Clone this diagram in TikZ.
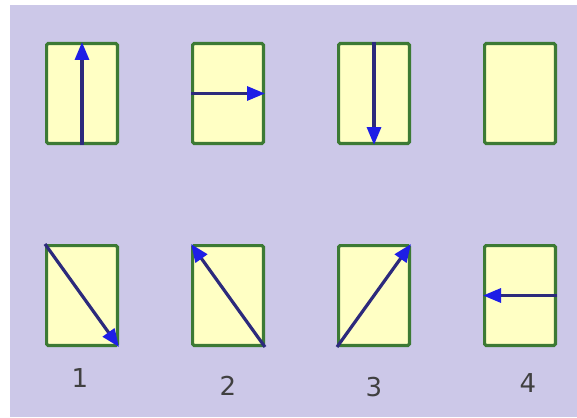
\documentclass[tikz,border=0pt]{standalone}
\usepackage{fontspec}
\setmainfont{DejaVu Sans}
\usetikzlibrary{arrows.meta,positioning}
\definecolor{lavender}{HTML}{CCC8E8}
\definecolor{cellfill}{HTML}{FFFFC4}
\definecolor{cellgreen}{HTML}{3C7A34}
\definecolor{shaft}{HTML}{2C2A7C}
\definecolor{tipblue}{HTML}{1E1EE6}

\begin{document}
\begin{tikzpicture}[x=1pt, y=-1pt,
    node distance=99pt and 72pt,
    cell/.style={draw=cellgreen, fill=cellfill, line width=3.2pt, rounded corners=1.5pt, minimum width=70.8pt, minimum height=99.8pt, inner sep=0pt},
    arrow/.style={-{Triangle[length=18pt, width=14pt, color=tipblue]}, draw=shaft, line width=3.2pt},
    num/.style={font=\fontsize{26}{26}\selectfont, text=black!75},
]
    \useasboundingbox (0,0) rectangle (577,417);
    \fill[white] (0,0) rectangle (577,417);
    \fill[lavender] (10,5) rectangle (577,417);

    % top row
    \node[cell] (up) at (82,93.5) {};
    \node[cell, right=of up] (right) {};
    \node[cell, right=of right] (down) {};
    \node[cell, right=of down] (empty) {};

    % bottom row
    \node[cell, below=of up] (se) {};
    \node[cell, below=of right] (nw) {};
    \node[cell, below=of down] (ne) {};
    \node[cell, below=of empty] (left) {};

    \draw[arrow] (up.south) -- (up.north);
    \draw[arrow] (right.west) -- (right.east);
    \draw[arrow] (down.north) -- (down.south);
    \draw[arrow] (se.north west) -- (se.south east);
    \draw[arrow] (nw.south east) -- (nw.north west);
    \draw[arrow] (ne.south west) -- (ne.north east);
    \draw[arrow] (left.east) -- (left.west);

    \node[num, below=18pt of se, xshift=-2pt] (n1) {1};
    \node[num, below=26pt of nw] (n2) {2};
    \node[num, below=27pt of ne] (n3) {3};
    \node[num, below=23pt of left, xshift=8pt] (n4) {4};
\end{tikzpicture}
\end{document}
